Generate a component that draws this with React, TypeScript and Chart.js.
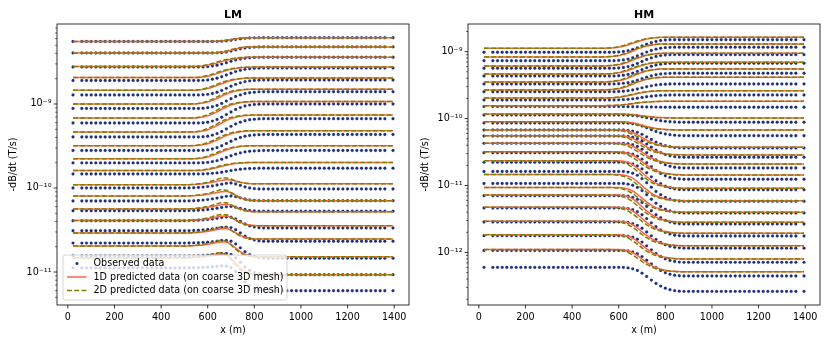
import React, { useEffect, useRef } from 'react';
import { Chart, registerables } from 'chart.js';

Chart.register(...registerables);

// ---------- data ----------
const STATION_X = [22, 60, 80, 100, 120, 140, 160, 180, 200, 220, 240, 260, 280, 300, 320, 340, 360, 380, 400, 420, 440, 460, 480, 500, 520, 540, 560, 580, 600, 620, 640, 660, 680, 700, 720, 740, 760, 780, 800, 820, 840, 860, 880, 900, 920, 940, 960, 980, 1000, 1020, 1040, 1060, 1080, 1100, 1120, 1140, 1160, 1180, 1200, 1220, 1240, 1260, 1280, 1300, 1320, 1340, 1360, 1395];
const X_TICKS = [0, 200, 400, 600, 800, 1000, 1200, 1400];
const LEGEND_LABELS = ['Observed data', '1D predicted data (on coarse 3D mesh)', '2D predicted data (on coarse 3D mesh)'];

// transition profiles (fraction of the left->right change), read at these stations
const PROFILE_X = [500, 520, 540, 560, 580, 600, 620, 640, 660, 680, 700, 720, 740, 760, 780, 800, 820, 840, 860, 880, 900, 920];
const LM_UP_1D = [0, 0, 0, 0.02, 0.06, 0.13, 0.24, 0.38, 0.53, 0.67, 0.79, 0.87, 0.93, 0.97, 0.99, 1, 1, 1, 1, 1, 1, 1];
const LM_UP_2D = [0, 0, 0.01, 0.04, 0.1, 0.2, 0.33, 0.48, 0.63, 0.75, 0.85, 0.91, 0.96, 0.98, 1, 1, 1, 1, 1, 1, 1, 1];
const LM_UP_OBS = [0, 0, 0, 0, 0.01, 0.04, 0.1, 0.18, 0.3, 0.44, 0.58, 0.71, 0.81, 0.89, 0.94, 0.97, 0.99, 1, 1, 1, 1, 1];
const LM_LATE_1D = [0, 0, 0, 0, 0, 0, 0, 0.03, 0.1, 0.25, 0.45, 0.65, 0.82, 0.93, 0.98, 1, 1, 1, 1, 1, 1, 1];
const LM_LATE_2D = [0, 0, 0, 0, 0, 0, 0.02, 0.07, 0.17, 0.34, 0.55, 0.74, 0.88, 0.96, 0.99, 1, 1, 1, 1, 1, 1, 1];
const LM_LATE_OBS = [0, 0, 0, 0, 0, 0, 0, 0.01, 0.05, 0.14, 0.3, 0.5, 0.68, 0.82, 0.91, 0.96, 0.99, 1, 1, 1, 1, 1];
const LM_DROP_1D = [0, 0, 0, 0, 0, 0, 0, 0, 0.03, 0.1, 0.28, 0.5, 0.7, 0.85, 0.94, 0.98, 1, 1, 1, 1, 1, 1];
const LM_DROP_2D = [0, 0, 0, 0, 0, 0, 0, 0.02, 0.08, 0.2, 0.4, 0.62, 0.8, 0.92, 0.98, 1, 1, 1, 1, 1, 1, 1];
const LM_DROP_OBS = [0, 0, 0, 0, 0, 0, 0, 0, 0, 0.03, 0.1, 0.25, 0.45, 0.65, 0.8, 0.9, 0.96, 0.99, 1, 1, 1, 1];
const LM_HUMP_1D = [0, 0.03, 0.07, 0.13, 0.22, 0.35, 0.5, 0.7, 0.88, 1, 0.9, 0.65, 0.38, 0.18, 0.06, 0, 0, 0, 0, 0, 0, 0];
const LM_HUMP_2D = [0, 0.03, 0.08, 0.15, 0.25, 0.4, 0.58, 0.8, 0.97, 1, 0.8, 0.5, 0.25, 0.1, 0.03, 0, 0, 0, 0, 0, 0, 0];
const LM_HUMP_OBS = [0, 0.02, 0.05, 0.1, 0.18, 0.28, 0.42, 0.58, 0.76, 0.92, 1, 0.85, 0.6, 0.35, 0.15, 0.05, 0, 0, 0, 0, 0, 0];
const HM_UP_1D = [0, 0, 0, 0.02, 0.05, 0.1, 0.18, 0.3, 0.45, 0.6, 0.73, 0.84, 0.91, 0.96, 0.99, 1, 1, 1, 1, 1, 1, 1];
const HM_UP_2D = [0, 0, 0.01, 0.03, 0.07, 0.14, 0.24, 0.37, 0.52, 0.66, 0.78, 0.87, 0.93, 0.97, 1, 1, 1, 1, 1, 1, 1, 1];
const HM_UP_OBS = [0, 0, 0, 0, 0, 0.02, 0.06, 0.12, 0.22, 0.35, 0.5, 0.64, 0.76, 0.86, 0.93, 0.97, 0.99, 1, 1, 1, 1, 1];
const HM_DOWN_1D = [0, 0, 0, 0, 0, 0, 0.02, 0.06, 0.14, 0.27, 0.43, 0.58, 0.71, 0.81, 0.88, 0.93, 0.96, 0.98, 0.99, 1, 1, 1];
const HM_DOWN_2D = [0, 0, 0, 0, 0.01, 0.03, 0.07, 0.14, 0.25, 0.39, 0.54, 0.67, 0.78, 0.86, 0.91, 0.95, 0.97, 0.99, 1, 1, 1, 1];
const HM_DOWN_OBS = [0, 0, 0, 0, 0, 0, 0, 0.02, 0.06, 0.13, 0.24, 0.38, 0.53, 0.67, 0.78, 0.87, 0.93, 0.97, 0.99, 1, 1, 1];
const NO_HUMP = [0, 0, 0, 0, 0, 0, 0, 0, 0, 0, 0, 0, 0, 0, 0, 0, 0, 0, 0, 0, 0, 0];

// LM channels (T/s), left side (x < 500 m) and right side (x > 900 m)
const LM_PRED_LEFT = [5.55e-9, 4.05e-9, 2.79e-9, 2.06e-9, 1.46e-9, 1.0e-9, 6.81e-10, 4.64e-10, 3.19e-10, 2.23e-10, 1.61e-10, 1.09e-10, 8.03e-11, 5.62e-11, 4.10e-11, 2.91e-11, 2.04e-11, 1.47e-11];
const LM_PRED_RIGHT = [6.15e-9, 4.78e-9, 3.60e-9, 2.75e-9, 2.04e-9, 1.50e-9, 1.07e-9, 7.40e-10, 4.81e-10, 3.19e-10, 2.01e-10, 1.12e-10, 7.06e-11, 5.22e-11, 3.56e-11, 2.47e-11, 1.52e-11, 9.29e-12];
const LM_OBS_LEFT = [5.55e-9, 4.05e-9, 2.75e-9, 1.905e-9, 1.28e-9, 8.84e-10, 5.94e-10, 4.05e-10, 2.79e-10, 1.99e-10, 1.47e-10, 1.0e-10, 7.0e-11, 5.37e-11, 4.08e-11, 3.10e-11, 2.21e-11, 1.55e-11, 1.12e-11];
const LM_OBS_RIGHT = [6.15e-9, 4.78e-9, 3.60e-9, 2.68e-9, 1.93e-9, 1.40e-9, 1.0e-9, 6.68e-10, 4.33e-10, 2.79e-10, 1.72e-10, 9.73e-11, 7.06e-11, 5.3e-11, 3.34e-11, 2.32e-11, 1.46e-11, 9.29e-12, 5.98e-12];
const LM_SHAPE = ['late', 'late', 'up', 'up', 'up', 'up', 'up', 'up', 'up', 'up', 'up', 'drop', 'drop', 'drop', 'drop', 'drop', 'drop', 'drop', 'drop'];
const LM_HUMP_AMP_1D = [0, 0, 0, 0, 0, 0, 0, 0, 0, 0, 0, 0.06, 0.06, 0.06, 0.06, 0.06, 0.06, 0.06];
const LM_HUMP_AMP_2D = [0, 0, 0, 0, 0, 0, 0, 0, 0, 0, 0, 0.08, 0.08, 0.08, 0.08, 0.08, 0.08, 0.08];
const LM_HUMP_AMP_OBS = [0, 0, 0, 0, 0, 0, 0, 0, 0, 0, 0, 0.06, 0.06, 0.05, 0.05, 0.05, 0.04, 0.04, 0.03];

// HM channels
const HM_PRED_LEFT = [1.124e-9, 8.33e-10, 6.11e-10, 4.64e-10, 3.52e-10, 2.68e-10, 2.03e-10, 1.56e-10, 1.17e-10, 8.99e-11, 6.75e-11, 5.55e-11, 4.27e-11, 3.20e-11, 2.35e-11, 1.46e-11, 9.33e-12, 7.21e-12, 4.72e-12, 2.92e-12, 1.84e-12, 1.11e-12];
const HM_PRED_RIGHT = [1.641e-9, 1.303e-9, 9.46e-10, 6.95e-10, 5.51e-10, 4.14e-10, 2.61e-10, 1.81e-10, 1.02e-10, 6.75e-11, 3.72e-11, 2.86e-11, 2.10e-11, 1.44e-11, 9.08e-12, 5.93e-12, 3.98e-12, 2.82e-12, 1.93e-12, 1.26e-12, 7.97e-13, 5.14e-13];
const HM_OBS_LEFT = [9.79e-10, 7.33e-10, 5.65e-10, 4.33e-10, 3.29e-10, 2.52e-10, 1.90e-10, 1.51e-10, 1.13e-10, 8.59e-11, 6.75e-11, 5.49e-11, 4.27e-11, 3.09e-11, 2.22e-11, 1.62e-11, 1.07e-11, 7.04e-12, 4.61e-12, 2.85e-12, 1.78e-12, 1.07e-12, 5.98e-13];
const HM_OBS_RIGHT = [1.51e-9, 1.164e-9, 9.02e-10, 6.71e-10, 4.75e-10, 3.29e-10, 2.25e-10, 1.48e-10, 8.81e-11, 5.55e-11, 3.63e-11, 2.64e-11, 1.83e-11, 1.24e-11, 8.65e-12, 5.81e-12, 3.88e-12, 2.66e-12, 1.76e-12, 1.16e-12, 7.11e-13, 4.44e-13, 2.62e-13];
const HM_SHAPE = ['up', 'up', 'up', 'up', 'up', 'up', 'up', 'up', 'down', 'down', 'down', 'down', 'down', 'down', 'down', 'down', 'down', 'down', 'down', 'down', 'down', 'down', 'down'];

// ---------- styling ----------
const FONT = '"DejaVu Sans", sans-serif';
const OBS_COLOR = '#1c2f7e';
const C1D = '#ff6347';
const C2D = '#808000';
const DASH = [5, 2.2];

const PROFILES: Record<string, { d1: number[]; d2: number[]; obs: number[]; h1: number[]; h2: number[]; hobs: number[] }> = {
  up: { d1: LM_UP_1D, d2: LM_UP_2D, obs: LM_UP_OBS, h1: NO_HUMP, h2: NO_HUMP, hobs: NO_HUMP },
  late: { d1: LM_LATE_1D, d2: LM_LATE_2D, obs: LM_LATE_OBS, h1: NO_HUMP, h2: NO_HUMP, hobs: NO_HUMP },
  drop: { d1: LM_DROP_1D, d2: LM_DROP_2D, obs: LM_DROP_OBS, h1: LM_HUMP_1D, h2: LM_HUMP_2D, hobs: LM_HUMP_OBS },
};
const HM_PROFILES: Record<string, { d1: number[]; d2: number[]; obs: number[] }> = {
  up: { d1: HM_UP_1D, d2: HM_UP_2D, obs: HM_UP_OBS },
  down: { d1: HM_DOWN_1D, d2: HM_DOWN_2D, obs: HM_DOWN_OBS },
};

function at(p: number[], x: number): number {
  const n = PROFILE_X.length;
  if (x <= PROFILE_X[0]) return p[0];
  if (x >= PROFILE_X[n - 1]) return p[n - 1];
  for (let i = 0; i < n - 1; i++) {
    const a = PROFILE_X[i];
    const b = PROFILE_X[i + 1];
    if (x >= a && x <= b) return p[i] + (p[i + 1] - p[i]) * ((x - a) / (b - a));
  }
  return p[n - 1];
}

function series(left: number, right: number, step: number[], humpAmp: number, hump: number[]) {
  const l0 = Math.log10(left);
  const l1 = Math.log10(right);
  return STATION_X.map((x) => ({ x, y: Math.pow(10, l0 + (l1 - l0) * at(step, x) + humpAmp * at(hump, x)) }));
}

function sup(n: number): string {
  const map: Record<string, string> = { '-': '⁻', '0': '⁰', '1': '¹', '2': '²', '3': '³', '4': '⁴', '5': '⁵', '6': '⁶', '7': '⁷', '8': '⁸', '9': '⁹' };
  return String(n).split('').map((c) => map[c]).join('');
}

function obsDs(data: any[]) {
  return { data, showLine: false, pointRadius: 1.45, pointBorderWidth: 0.4, pointBorderColor: 'rgba(28,47,126,0.5)', pointBackgroundColor: OBS_COLOR, borderColor: OBS_COLOR, backgroundColor: OBS_COLOR, order: 3 };
}
function d1Ds(data: any[]) {
  return { data, borderColor: C1D, borderWidth: 1.5, pointRadius: 0, fill: false, cubicInterpolationMode: 'monotone', order: 2 };
}
function d2Ds(data: any[]) {
  return { data, borderColor: C2D, borderWidth: 1.5, borderDash: DASH, pointRadius: 0, fill: false, cubicInterpolationMode: 'monotone', order: 1 };
}

function buildLM() {
  const ds: any[] = [];
  LM_OBS_LEFT.forEach((l, i) => {
    const p = PROFILES[LM_SHAPE[i]];
    ds.push(obsDs(series(l, LM_OBS_RIGHT[i], p.obs, LM_HUMP_AMP_OBS[i], p.hobs)));
  });
  LM_PRED_LEFT.forEach((l, i) => {
    const p = PROFILES[LM_SHAPE[i]];
    ds.push(d1Ds(series(l, LM_PRED_RIGHT[i], p.d1, LM_HUMP_AMP_1D[i], p.h1)));
    ds.push(d2Ds(series(l, LM_PRED_RIGHT[i], p.d2, LM_HUMP_AMP_2D[i], p.h2)));
  });
  return ds;
}

function buildHM() {
  const ds: any[] = [];
  HM_OBS_LEFT.forEach((l, i) => {
    const p = HM_PROFILES[HM_SHAPE[i]];
    ds.push(obsDs(series(l, HM_OBS_RIGHT[i], p.obs, 0, NO_HUMP)));
  });
  HM_PRED_LEFT.forEach((l, i) => {
    const p = HM_PROFILES[HM_SHAPE[i]];
    ds.push(d1Ds(series(l, HM_PRED_RIGHT[i], p.d1, 0, NO_HUMP)));
    ds.push(d2Ds(series(l, HM_PRED_RIGHT[i], p.d2, 0, NO_HUMP)));
  });
  return ds;
}

function drawLegend(ctx: CanvasRenderingContext2D) {
  const x0 = 63, y0 = 255, w = 224, h = 45, r = 2.5;
  ctx.save();
  ctx.beginPath();
  ctx.moveTo(x0 + r, y0);
  ctx.lineTo(x0 + w - r, y0);
  ctx.quadraticCurveTo(x0 + w, y0, x0 + w, y0 + r);
  ctx.lineTo(x0 + w, y0 + h - r);
  ctx.quadraticCurveTo(x0 + w, y0 + h, x0 + w - r, y0 + h);
  ctx.lineTo(x0 + r, y0 + h);
  ctx.quadraticCurveTo(x0, y0 + h, x0, y0 + h - r);
  ctx.lineTo(x0, y0 + r);
  ctx.quadraticCurveTo(x0, y0, x0 + r, y0);
  ctx.closePath();
  ctx.fillStyle = 'rgba(255,255,255,0.8)';
  ctx.fill();
  ctx.strokeStyle = '#cccccc';
  ctx.lineWidth = 0.8;
  ctx.stroke();
  const rows = [263.5, 277, 290.5];
  ctx.fillStyle = OBS_COLOR;
  ctx.beginPath();
  ctx.arc(77, rows[0], 1.5, 0, Math.PI * 2);
  ctx.fill();
  ctx.lineWidth = 1.5;
  ctx.strokeStyle = C1D;
  ctx.beginPath();
  ctx.moveTo(67, rows[1]);
  ctx.lineTo(86.5, rows[1]);
  ctx.stroke();
  ctx.strokeStyle = C2D;
  ctx.setLineDash(DASH);
  ctx.beginPath();
  ctx.moveTo(67, rows[2]);
  ctx.lineTo(86.5, rows[2]);
  ctx.stroke();
  ctx.setLineDash([]);
  ctx.fillStyle = '#000';
  ctx.font = `9.6px ${FONT}`;
  ctx.textAlign = 'left';
  ctx.textBaseline = 'middle';
  LEGEND_LABELS.forEach((t, i) => ctx.fillText(t, 93.5, rows[i]));
  ctx.restore();
}

function makeConfig(opts: { title: string; datasets: any[]; yMin: number; yMax: number; yWidth: number; padRight: number; yTitlePad: number; legend: boolean }) {
  const { title, datasets, yMin, yMax, yWidth, padRight, yTitlePad, legend } = opts;
  const decades: number[] = [];
  for (let e = Math.floor(Math.log10(yMin)); e <= Math.ceil(Math.log10(yMax)); e++) {
    const v = Math.pow(10, e);
    if (v >= yMin && v <= yMax) decades.push(v);
  }
  const framePlugin = {
    id: 'frame' + title,
    afterDraw(chart: any) {
      const { ctx, chartArea: a, scales } = chart;
      const xs = scales.x;
      const ys = scales.y;
      ctx.save();
      ctx.strokeStyle = '#000';
      ctx.lineWidth = 0.8;
      ctx.strokeRect(a.left, a.top, a.right - a.left, a.bottom - a.top);
      X_TICKS.forEach((v) => {
        const px = xs.getPixelForValue(v);
        ctx.beginPath();
        ctx.moveTo(px, a.bottom);
        ctx.lineTo(px, a.bottom + 3.4);
        ctx.stroke();
      });
      for (let e = Math.floor(Math.log10(yMin)); e <= Math.ceil(Math.log10(yMax)); e++) {
        for (let k = 1; k <= 9; k++) {
          const v = k * Math.pow(10, e);
          if (v < yMin || v > yMax) continue;
          const py = ys.getPixelForValue(v);
          const len = k === 1 ? 3.4 : 1.9;
          ctx.lineWidth = k === 1 ? 0.8 : 0.6;
          ctx.beginPath();
          ctx.moveTo(a.left - len, py);
          ctx.lineTo(a.left, py);
          ctx.stroke();
        }
      }
      ctx.fillStyle = '#000';
      ctx.font = `bold 11px ${FONT}`;
      ctx.textAlign = 'center';
      ctx.textBaseline = 'middle';
      ctx.fillText(title, (a.left + a.right) / 2, 15);
      ctx.restore();
      if (legend) drawLegend(ctx);
    },
  };
  return {
    type: 'line',
    data: { datasets },
    options: {
      animation: false,
      responsive: false,
      devicePixelRatio: 1,
      normalized: true,
      events: [],
      layout: { padding: { left: 0, right: padRight, top: 24, bottom: 0 } },
      plugins: { legend: { display: false }, tooltip: { enabled: false }, title: { display: false } },
      scales: {
        x: {
          type: 'linear',
          min: -46.65,
          max: 1463.65,
          bounds: 'data',
          afterBuildTicks: (s: any) => { s.ticks = X_TICKS.map((v) => ({ value: v })); },
          afterFit: (s: any) => { s.height = 41; },
          ticks: { callback: (v: any) => String(v), color: '#000', font: { family: FONT, size: 9.6 }, padding: 6.4, maxRotation: 0, autoSkip: false },
          grid: { display: false, drawTicks: false, tickLength: 0 },
          border: { display: false },
          title: { display: true, text: 'x (m)', color: '#000', font: { family: FONT, size: 9.6 }, padding: { top: 0, bottom: 10 } },
        },
        y: {
          type: 'logarithmic',
          min: yMin,
          max: yMax,
          bounds: 'data',
          afterBuildTicks: (s: any) => { s.ticks = decades.map((v) => ({ value: v })); },
          afterFit: (s: any) => { s.width = yWidth; },
          ticks: { callback: (v: any) => '10' + sup(Math.round(Math.log10(v))), color: '#000', font: { family: FONT, size: 9.6 }, padding: 5.5, autoSkip: false },
          grid: { display: false, drawTicks: false, tickLength: 0 },
          border: { display: false },
          title: { display: true, text: '-dB/dt (T/s)', color: '#000', font: { family: FONT, size: 9.6 }, padding: { top: yTitlePad, bottom: 0 } },
        },
      },
    },
    plugins: [framePlugin],
  };
}

export default function App() {
  const leftRef = useRef<HTMLCanvasElement>(null);
  const rightRef = useRef<HTMLCanvasElement>(null);
  useEffect(() => {
    const c1 = new Chart(leftRef.current as HTMLCanvasElement, makeConfig({
      title: 'LM', datasets: buildLM(), yMin: 4.05e-12, yMax: 8.95e-9, yWidth: 57, padRight: 6, yTitlePad: 8.2, legend: true,
    }) as any);
    const c2 = new Chart(rightRef.current as HTMLCanvasElement, makeConfig({
      title: 'HM', datasets: buildHM(), yMin: 1.64e-13, yMax: 2.59e-9, yWidth: 53, padRight: 10, yTitlePad: 4.8, legend: false,
    }) as any);
    return () => { c1.destroy(); c2.destroy(); };
  }, []);
  return (
    <div style={{ position: 'fixed', left: 0, top: 0, width: 830, height: 346, background: '#fff' }}>
      <canvas ref={leftRef} width={415} height={346} style={{ position: 'absolute', left: 0, top: 0, width: 415, height: 346 }} />
      <canvas ref={rightRef} width={415} height={346} style={{ position: 'absolute', left: 415, top: 0, width: 415, height: 346 }} />
    </div>
  );
}
